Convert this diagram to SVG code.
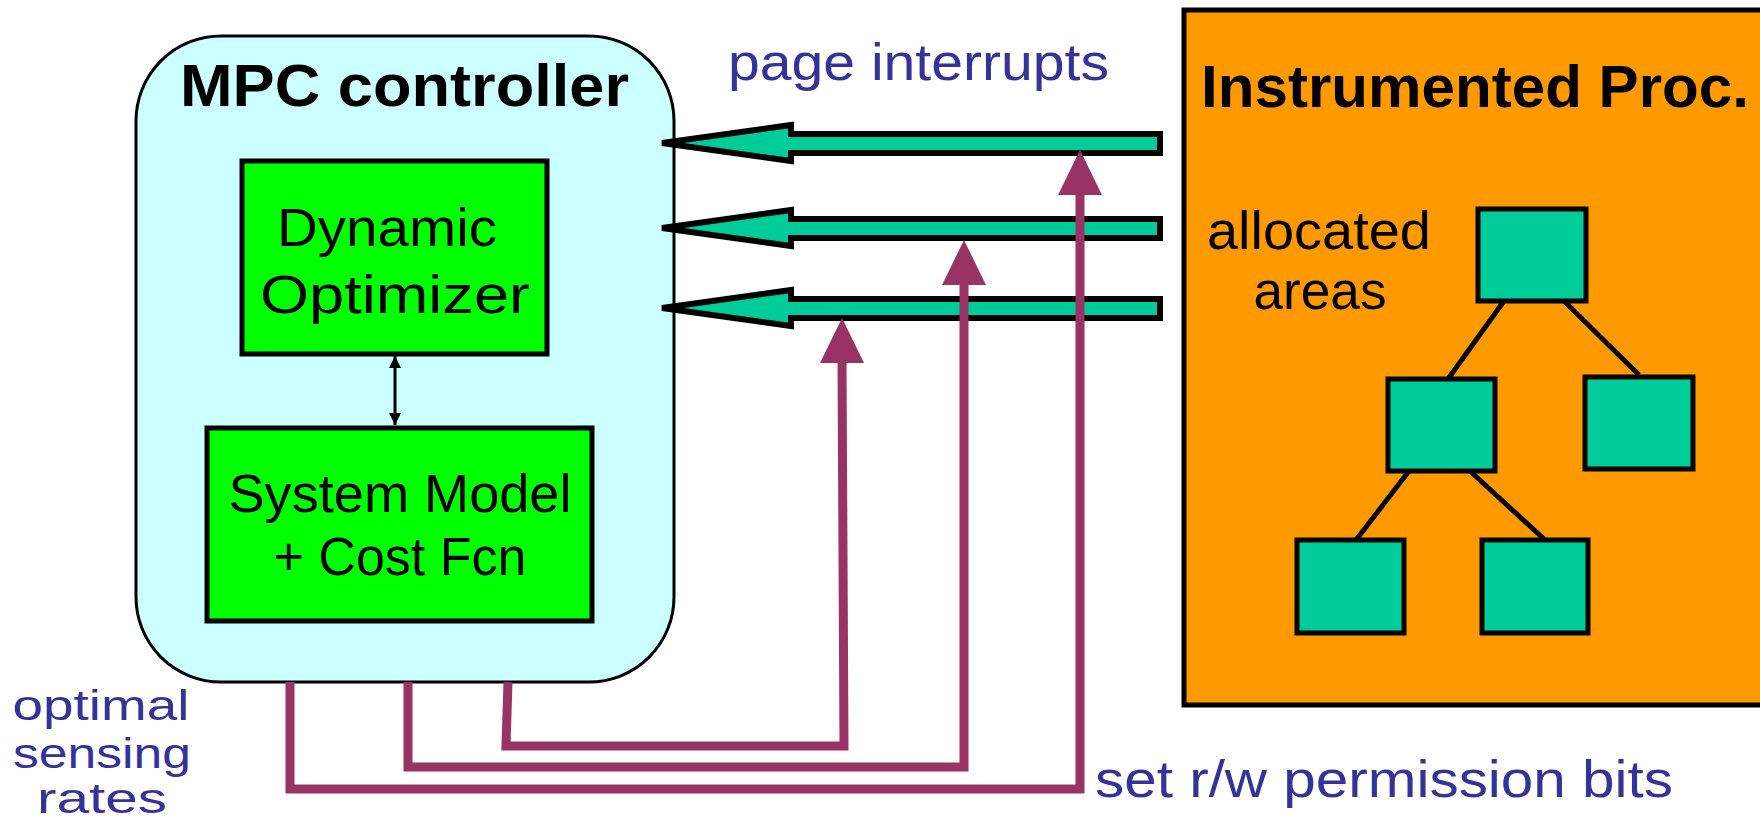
<svg xmlns="http://www.w3.org/2000/svg" width="1760" height="822" viewBox="0 0 1760 822">
<defs>
<style>
.lbl{font-family:"Liberation Sans",Arial,sans-serif;fill:#333399;font-size:52px}
.sm{font-size:42px}
.blk{font-family:"Liberation Sans",Arial,sans-serif;fill:#000;font-size:54px}
.ttl{font-family:"Liberation Sans",Arial,sans-serif;fill:#000;font-size:60px;font-weight:bold}
.tbox{fill:#00CC99;stroke:#000;stroke-width:5}
.gbox{fill:#00FF00;stroke:#000;stroke-width:5}
.gar{fill:#00CC99;stroke:#000;stroke-width:6;stroke-linejoin:miter}
.pl{fill:none;stroke:#993366;stroke-width:9;stroke-linejoin:miter}
.ph{fill:#993366}
.tl{stroke:#000;stroke-width:5}
</style>
<marker id="ah" viewBox="0 0 10 10" refX="10" refY="5" markerWidth="4" markerHeight="4" orient="auto-start-reverse">
<path d="M0,0 L10,5 L0,10 z" fill="#000"/>
</marker>
</defs>
<rect width="1760" height="822" fill="#fff"/>

<g id="mpc">
<rect x="136" y="36" width="538" height="646" rx="85" ry="85" fill="#CCFFFF" stroke="#000" stroke-width="3"/>
<text class="ttl" x="180" y="106" textLength="449" lengthAdjust="spacingAndGlyphs">MPC controller</text>
</g>

<g id="optimizer">
<rect class="gbox" x="242" y="161" width="305" height="193"/>
<text class="blk" x="387" y="246" text-anchor="middle" textLength="220" lengthAdjust="spacingAndGlyphs">Dynamic</text>
<text class="blk" x="395" y="313" text-anchor="middle" textLength="270" lengthAdjust="spacingAndGlyphs">Optimizer</text>
</g>

<g id="model">
<rect class="gbox" x="207" y="428" width="385" height="193"/>
<text class="blk" x="400" y="512" text-anchor="middle" textLength="343" lengthAdjust="spacingAndGlyphs">System Model</text>
<text class="blk" x="400" y="575" text-anchor="middle" textLength="253" lengthAdjust="spacingAndGlyphs">+ Cost Fcn</text>
</g>

<g id="proc">
<rect x="1184" y="10" width="590" height="695" fill="#FF9900" stroke="#000" stroke-width="5"/>
<text class="ttl" x="1201" y="107" textLength="548" lengthAdjust="spacingAndGlyphs">Instrumented Proc.</text>
<text class="blk" x="1319" y="249" text-anchor="middle" textLength="224" lengthAdjust="spacingAndGlyphs">allocated</text>
<text class="blk" x="1320" y="309" text-anchor="middle" textLength="133" lengthAdjust="spacingAndGlyphs">areas</text>
</g>

<g id="tree">
<line class="tl" x1="1504" y1="301" x2="1448" y2="379"/>
<line class="tl" x1="1564" y1="301" x2="1639" y2="375"/>
<line class="tl" x1="1409" y1="471" x2="1356" y2="540"/>
<line class="tl" x1="1470" y1="471" x2="1545" y2="540"/>
<rect class="tbox" x="1478" y="209" width="108" height="92"/>
<rect class="tbox" x="1388" y="379" width="107" height="92"/>
<rect class="tbox" x="1585" y="377" width="108" height="92"/>
<rect class="tbox" x="1297" y="540" width="107" height="93"/>
<rect class="tbox" x="1482" y="540" width="106" height="93"/>
</g>

<g id="connectors">
<line x1="395" y1="356" x2="395" y2="425" stroke="#000" stroke-width="3" marker-start="url(#ah)" marker-end="url(#ah)"/>
<polygon class="gar" points="662,143 791,125 791,134 1160,134 1160,153 791,153 791,161"/>
<polygon class="gar" points="662,228 791,210 791,219 1160,219 1160,238 791,238 791,246"/>
<polygon class="gar" points="662,308 791,290 791,299 1160,299 1160,318 791,318 791,326"/>
<polyline class="pl" points="290,682 290,789 1080,789 1080,192"/>
<polyline class="pl" points="408,682 408,767 964,767 964,282"/>
<polyline class="pl" points="508,682 506,746 844,746 842,360"/>
<polygon class="ph" points="1080,150 1102,195 1058,195"/>
<polygon class="ph" points="964,240 986,285 942,285"/>
<polygon class="ph" points="842,318 864,363 820,363"/>
</g>

<g id="labels">
<text class="lbl" x="728" y="80" textLength="381" lengthAdjust="spacingAndGlyphs">page interrupts</text>
<text class="lbl sm" x="101" y="720" text-anchor="middle" textLength="177" lengthAdjust="spacingAndGlyphs">optimal</text>
<text class="lbl sm" x="102" y="768" text-anchor="middle" textLength="178" lengthAdjust="spacingAndGlyphs">sensing</text>
<text class="lbl sm" x="102" y="813" text-anchor="middle" textLength="130" lengthAdjust="spacingAndGlyphs">rates</text>
<text class="lbl" x="1095" y="797" textLength="578" lengthAdjust="spacingAndGlyphs">set r/w permission bits</text>
</g>
</svg>
